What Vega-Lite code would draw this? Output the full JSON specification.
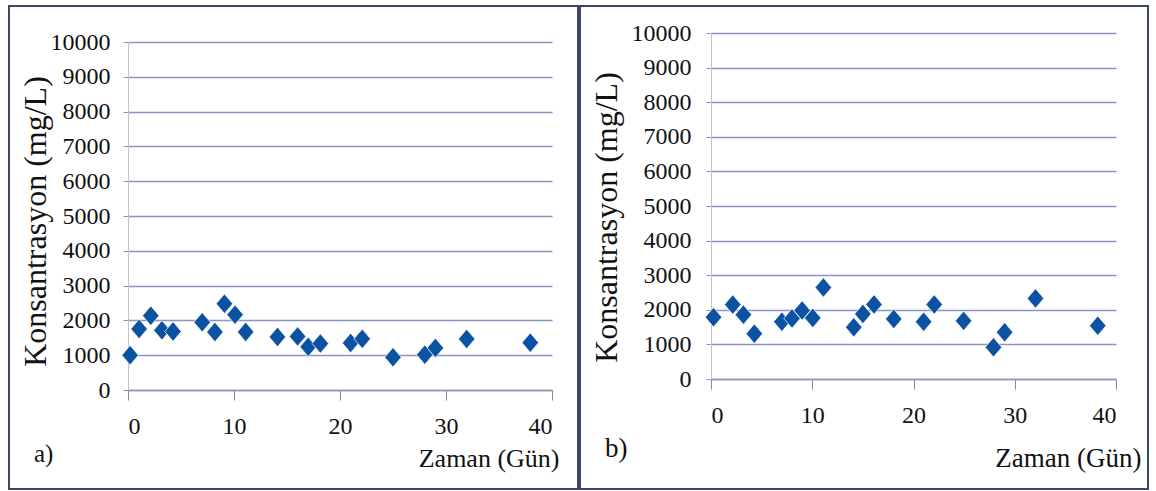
{
  "$schema": "https://vega.github.io/schema/vega-lite/v6.json",
  "background": "white",
  "padding": {"left": 8, "top": 5, "right": 0, "bottom": 0},
  "spacing": 0,
  "config": {
    "view": {"stroke": "#3d4866", "strokeWidth": 2},
    "axis": {
      "labelFont": "Liberation Sans Narrow",
      "labelFontSize": 24,
      "labelColor": "#111111"
    }
  },
  "hconcat": [
    {
      "width": 569,
      "height": 483,
      "data": {"values": [
        {"gun": 0.2, "konsantrasyon": 1000},
        {"gun": 1.05, "konsantrasyon": 1755},
        {"gun": 2.15, "konsantrasyon": 2135},
        {"gun": 3.2, "konsantrasyon": 1715},
        {"gun": 4.25, "konsantrasyon": 1680},
        {"gun": 7.0, "konsantrasyon": 1945},
        {"gun": 8.2, "konsantrasyon": 1665},
        {"gun": 9.1, "konsantrasyon": 2480},
        {"gun": 10.1, "konsantrasyon": 2165},
        {"gun": 11.1, "konsantrasyon": 1670},
        {"gun": 14.1, "konsantrasyon": 1525},
        {"gun": 16.0, "konsantrasyon": 1540},
        {"gun": 17.0, "konsantrasyon": 1240},
        {"gun": 18.15, "konsantrasyon": 1335},
        {"gun": 21.0, "konsantrasyon": 1350},
        {"gun": 22.1, "konsantrasyon": 1470},
        {"gun": 25.0, "konsantrasyon": 940},
        {"gun": 28.0, "konsantrasyon": 1015},
        {"gun": 29.0, "konsantrasyon": 1210},
        {"gun": 31.95, "konsantrasyon": 1465},
        {"gun": 37.95, "konsantrasyon": 1360}
      ]},
      "title": {
        "text": "a)", "orient": "bottom", "anchor": "start", "frame": "group",
        "dx": 25, "dy": -31, "baseline": "alphabetic",
        "font": "Liberation Serif", "fontSize": 25, "fontWeight": "normal", "color": "#111111"
      },
      "mark": {"type": "point", "shape": "M0,-1L0.85,0L0,1L-0.85,0Z", "filled": true, "size": 380, "color": "#0b52a3", "opacity": 1, "stroke": "#ffffff", "strokeWidth": 0.7},
      "encoding": {
        "x": {
          "field": "gun", "type": "quantitative",
          "scale": {"domain": [0, 40], "range": [119, 543], "nice": false, "zero": false},
          "axis": {
            "values": [0, 10, 20, 30, 40], "grid": false, "offset": -99,
            "tickSize": 10, "tickColor": "#8a8a8a", "domainColor": "#8f96b8", "domainWidth": 1.5,
            "labelPadding": 14,
            "title": "Zaman (Gün)", "titleFont": "Liberation Serif", "titleFontWeight": "normal", "titleColor": "#111111",
            "titleFontSize": 26, "titleX": 550, "titleY": 76,
            "titleAlign": "right", "titleBaseline": "alphabetic"
          }
        },
        "y": {
          "field": "konsantrasyon", "type": "quantitative",
          "scale": {"domain": [0, 10000], "range": [384, 36], "nice": false, "zero": true},
          "axis": {
            "values": [0, 1000, 2000, 3000, 4000, 5000, 6000, 7000, 8000, 9000, 10000],
            "format": "d", "grid": true, "gridColor": "#8a95c6", "gridWidth": 1.4,
            "offset": -119, "tickSize": 5, "tickColor": "#8a95c6", "domainColor": "#c4c4c4",
            "labelPadding": 13,
            "title": "Konsantrasyon (mg/L)", "titleFont": "Liberation Serif", "titleFontWeight": "normal", "titleColor": "#111111",
            "titleFontSize": 32, "titleX": -93, "titleY": 215,
            "titleBaseline": "middle", "titleAngle": -90
          }
        }
      }
    },
    {
      "width": 568,
      "height": 483,
      "data": {"values": [
        {"gun": 0.25, "konsantrasyon": 1785},
        {"gun": 2.15, "konsantrasyon": 2150},
        {"gun": 3.2, "konsantrasyon": 1860},
        {"gun": 4.28, "konsantrasyon": 1310},
        {"gun": 7.0, "konsantrasyon": 1655},
        {"gun": 8.0, "konsantrasyon": 1750},
        {"gun": 9.0, "konsantrasyon": 1980},
        {"gun": 10.05, "konsantrasyon": 1765},
        {"gun": 11.1, "konsantrasyon": 2645},
        {"gun": 14.1, "konsantrasyon": 1495},
        {"gun": 15.0, "konsantrasyon": 1880},
        {"gun": 16.1, "konsantrasyon": 2155},
        {"gun": 18.05, "konsantrasyon": 1735},
        {"gun": 21.0, "konsantrasyon": 1655},
        {"gun": 22.05, "konsantrasyon": 2155},
        {"gun": 24.95, "konsantrasyon": 1680},
        {"gun": 27.9, "konsantrasyon": 915},
        {"gun": 29.0, "konsantrasyon": 1350},
        {"gun": 32.05, "konsantrasyon": 2330},
        {"gun": 38.2, "konsantrasyon": 1540}
      ]},
      "title": {
        "text": "b)", "orient": "bottom", "anchor": "start", "frame": "group",
        "dx": 25, "dy": -36, "baseline": "alphabetic",
        "font": "Liberation Serif", "fontSize": 27, "fontWeight": "normal", "color": "#111111"
      },
      "mark": {"type": "point", "shape": "M0,-1L0.85,0L0,1L-0.85,0Z", "filled": true, "size": 380, "color": "#0b52a3", "opacity": 1, "stroke": "#ffffff", "strokeWidth": 0.7},
      "encoding": {
        "x": {
          "field": "gun", "type": "quantitative",
          "scale": {"domain": [0, 40], "range": [131, 536], "nice": false, "zero": false},
          "axis": {
            "values": [0, 10, 20, 30, 40], "grid": false, "offset": -110,
            "tickSize": 10, "tickColor": "#8a8a8a", "domainColor": "#8f96b8", "domainWidth": 1.5,
            "labelPadding": 14,
            "title": "Zaman (Gün)", "titleFont": "Liberation Serif", "titleFontWeight": "normal", "titleColor": "#111111",
            "titleFontSize": 27, "titleX": 561, "titleY": 87,
            "titleAlign": "right", "titleBaseline": "alphabetic"
          }
        },
        "y": {
          "field": "konsantrasyon", "type": "quantitative",
          "scale": {"domain": [0, 10000], "range": [373, 27], "nice": false, "zero": true},
          "axis": {
            "values": [0, 1000, 2000, 3000, 4000, 5000, 6000, 7000, 8000, 9000, 10000],
            "format": "d", "grid": true, "gridColor": "#8a95c6", "gridWidth": 1.4,
            "offset": -131, "tickSize": 5, "tickColor": "#8a95c6", "domainColor": "#c4c4c4",
            "labelPadding": 15,
            "title": "Konsantrasyon (mg/L)", "titleFont": "Liberation Serif", "titleFontWeight": "normal", "titleColor": "#111111",
            "titleFontSize": 32, "titleX": -105, "titleY": 211,
            "titleBaseline": "middle", "titleAngle": -90
          }
        }
      }
    }
  ]
}
